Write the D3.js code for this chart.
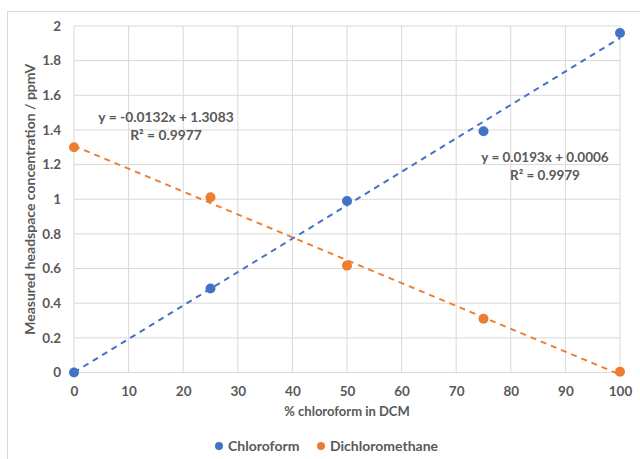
<!DOCTYPE html>
<html>
<head>
<meta charset="utf-8">
<script src="https://cdn.jsdelivr.net/npm/d3@7"></script>
<style>
  body { margin: 0; background: #fff; }
  svg { font-family: Lato, "Open Sans", sans-serif; }
</style>
</head>
<body>
<div id="chart"></div>
<script>
// data
const concentrations = [0, 25, 50, 75, 100];
const chloroform = [0, 0.485, 0.99, 1.393, 1.96];
const dichloromethane = [1.30, 1.012, 0.617, 0.31, 0.004];
const seriesNames = ["Chloroform", "Dichloromethane"];
const seriesColors = ["#4472C4", "#ED7D31"];
const slopes = [0.0193, -0.0132];
const intercepts = [0.0006, 1.3083];
const equations = ["y = 0.0193x + 0.0006", "y = -0.0132x + 1.3083"];
const rSquared = ["R² = 0.9979", "R² = 0.9977"];
const xTicks = [0, 10, 20, 30, 40, 50, 60, 70, 80, 90, 100];
const yTicks = [0, 0.2, 0.4, 0.6, 0.8, 1, 1.2, 1.4, 1.6, 1.8, 2];

const width = 640, height = 459;
const margin = {left: 74, right: 20, top: 26, bottom: 86.5};

const svg = d3.select("#chart").append("svg")
    .attr("width", width)
    .attr("height", height);

// chart area border
svg.append("rect")
    .attr("x", 7.5).attr("y", 11.5)
    .attr("width", 640).attr("height", 460)
    .attr("fill", "none")
    .attr("stroke", "#d9d9d9");

const x = d3.scaleLinear().domain([0, 100]).range([margin.left, width - margin.right]);
const y = d3.scaleLinear().domain([0, 2]).range([height - margin.bottom, margin.top]);

// gridlines
svg.append("g")
    .selectAll("line.h")
    .data(yTicks)
    .join("line")
    .attr("x1", x(0)).attr("x2", x(100))
    .attr("y1", d => y(d)).attr("y2", d => y(d))
    .attr("stroke", "#d9d9d9").attr("stroke-width", 1);

svg.append("g")
    .selectAll("line.v")
    .data(xTicks)
    .join("line")
    .attr("x1", d => x(d)).attr("x2", d => x(d))
    .attr("y1", y(0)).attr("y2", y(2))
    .attr("stroke", "#d9d9d9").attr("stroke-width", 1);

// axes (labels only)
const xAxis = svg.append("g")
    .attr("transform", `translate(0,${y(0)})`)
    .call(d3.axisBottom(x).tickValues(xTicks).tickSize(0).tickPadding(14));
const yAxis = svg.append("g")
    .attr("transform", `translate(${x(0)},0)`)
    .call(d3.axisLeft(y).tickValues(yTicks).tickSize(0).tickPadding(13).tickFormat(d3.format("")));
[xAxis, yAxis].forEach(a => {
    a.select(".domain").remove();
    a.selectAll("text")
        .attr("fill", "#595959")
        .attr("font-size", "13.5px")
        .attr("font-weight", "bold")
        .attr("font-family", "Lato, sans-serif");
});

// axis titles
svg.append("text")
    .attr("x", 347).attr("y", 416)
    .attr("text-anchor", "middle")
    .attr("fill", "#595959")
    .attr("font-size", "13px")
    .attr("font-weight", "bold")
    .text("% chloroform in DCM");

svg.append("text")
    .attr("transform", `translate(35,${(y(0) + y(2)) / 2}) rotate(-90)`)
    .attr("text-anchor", "middle")
    .attr("fill", "#595959")
    .attr("font-size", "14px")
    .attr("font-weight", "bold")
    .text("Measured headspace concentration / ppmV");

// trendlines
[0, 1].forEach(i => {
    svg.append("line")
        .attr("x1", x(0)).attr("y1", y(intercepts[i]))
        .attr("x2", x(100)).attr("y2", y(intercepts[i] + slopes[i] * 100))
        .attr("stroke", seriesColors[i])
        .attr("stroke-width", 2)
        .attr("stroke-dasharray", "6,5");
});

// points
[chloroform, dichloromethane].forEach((vals, i) => {
    svg.append("g")
        .selectAll("circle")
        .data(vals)
        .join("circle")
        .attr("cx", (d, j) => x(concentrations[j]))
        .attr("cy", d => y(d))
        .attr("r", 5)
        .attr("fill", seriesColors[i]);
});

// equation labels
const eqPos = [[545, 162], [166, 122]];
const eqSize = ["13.5px", "13.8px"];
[0, 1].forEach(i => {
    const t = svg.append("text")
        .attr("text-anchor", "middle")
        .attr("fill", "#595959")
        .attr("font-size", eqSize[i])
        .attr("font-weight", "bold");
    t.append("tspan").attr("x", eqPos[i][0]).attr("y", eqPos[i][1]).text(equations[i]);
    t.append("tspan").attr("x", eqPos[i][0]).attr("y", eqPos[i][1] + 18).text(rSquared[i]);
});

// legend
const legendX = [219, 321];
const legend = svg.append("g");
seriesNames.forEach((name, i) => {
    legend.append("circle")
        .attr("cx", legendX[i]).attr("cy", 446)
        .attr("r", 4)
        .attr("fill", seriesColors[i]);
    legend.append("text")
        .attr("x", legendX[i] + 9).attr("y", 451)
        .attr("fill", "#595959")
        .attr("font-size", "14px")
        .attr("font-weight", "bold")
        .text(name);
});
</script>
</body>
</html>
